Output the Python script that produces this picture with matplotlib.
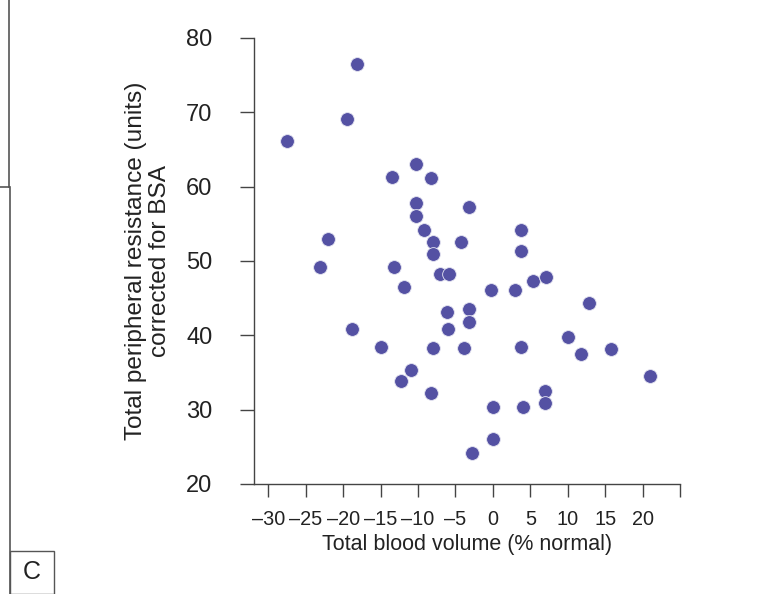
import numpy as np
import matplotlib.pyplot as plt
from matplotlib.lines import Line2D
from matplotlib.patches import Rectangle

plt.rcParams['font.family'] = ['Liberation Sans', 'DejaVu Sans']

# total blood volume (% normal) vs total peripheral resistance
blood_volume = [-18.1, -19.5, -27.5, -10.2, -13.5, -8.2, -10.3, -3.2, -10.3, -9.2,
                -22.0, -8.0, -4.3, -8.0, -23.1, -13.2, -7.1, -5.9, 3.7, 3.7,
                -11.9, -0.2, 3.0, 5.4, 7.1, 12.8, -6.1, -3.2, -3.2, -6.0,
                -18.8, 10.0, -14.9, -8.0, -3.9, 3.8, 11.8, 15.8, 21.0, -10.9,
                -12.2, -8.3, 7.0, 7.0, 0.0, 4.05, 0.0, -2.8]
resistance = [76.5, 69.1, 66.1, 63.0, 61.3, 61.2, 57.8, 57.3, 56.1, 54.2,
              53.0, 52.6, 52.5, 50.9, 49.2, 49.2, 48.25, 48.25, 54.2, 51.4,
              46.5, 46.1, 46.1, 47.3, 47.8, 44.3, 43.1, 43.5, 41.8, 40.9,
              40.9, 39.8, 38.4, 38.25, 38.25, 38.4, 37.5, 38.2, 34.5, 35.3,
              33.9, 32.3, 32.55, 30.85, 30.4, 30.4, 26.1, 24.2]

x_ticks = [-30, -25, -20, -15, -10, -5, 0, 5, 10, 15, 20, 25]
x_labels = ['\u201330', '\u201325', '\u201320', '\u201315', '\u201310', '\u20135',
            '0', '5', '10', '15', '20', '']
y_ticks = [20, 30, 40, 50, 60, 70, 80]

W, H = 764, 594
fig = plt.figure(figsize=(W / 100, H / 100), dpi=100)
ax = fig.add_axes([254 / W, 1 - 484 / H, (680 - 254) / W, (484 - 38) / H])

ax.scatter(blood_volume, resistance, s=98, color='#5451a3',
           edgecolors='#e6e6f2', linewidths=0.6, zorder=3, clip_on=False)

ax.set_xlim(-31.9, 25)
ax.set_ylim(20, 80)
ax.set_xticks(x_ticks)
ax.set_xticklabels(x_labels)
ax.set_yticks(y_ticks)

for side in ['top', 'right']:
    ax.spines[side].set_visible(False)
for side in ['left', 'bottom']:
    ax.spines[side].set_color('#444444')
    ax.spines[side].set_linewidth(1.0)

ax.tick_params(axis='x', direction='out', length=9.5, width=1.0, color='#444444',
               labelsize=14.3, pad=9, labelcolor='#222222')
ax.tick_params(axis='y', direction='out', length=10, width=1.0, color='#444444',
               labelsize=17, pad=20, labelcolor='#222222')

ax.set_xlabel('Total blood volume (% normal)', fontsize=15.5, color='#222222', labelpad=4)
ax.set_ylabel('Total peripheral resistance (units)\ncorrected for BSA', fontsize=17.6,
              color='#222222', labelpad=11, linespacing=1.1)

# panel frame decorations at the left edge
gray = '#555555'
fig.add_artist(Line2D([9 / W, 9 / W], [1, 1 - 187 / H], color=gray, lw=1.2))
fig.add_artist(Line2D([0, 9 / W], [1 - 187 / H, 1 - 187 / H], color=gray, lw=1.2))
fig.add_artist(Line2D([10 / W, 10 / W], [1 - 187 / H, 0], color=gray, lw=1.2))
fig.add_artist(Rectangle((10 / W, 0), 44 / W, 43 / H, fill=False, edgecolor=gray,
                         lw=1.0, transform=fig.transFigure))
fig.text(32 / W, 1 - 572 / H, 'C', fontsize=18, ha='center', va='center', color='#222222')

fig.savefig('out.png', dpi=100)
